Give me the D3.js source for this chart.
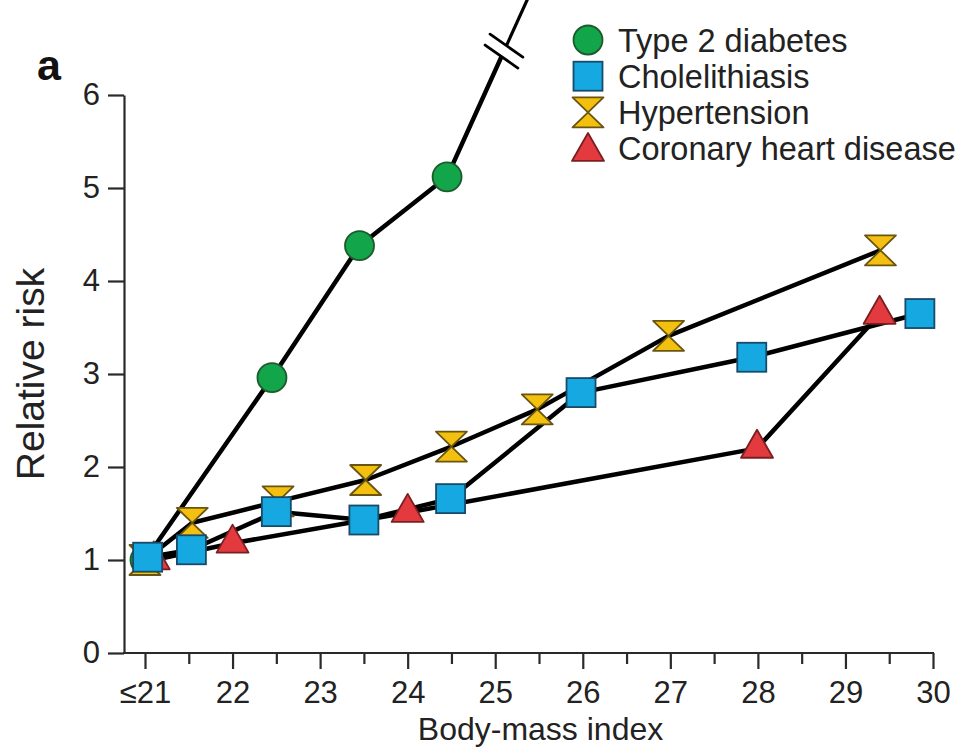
<!DOCTYPE html>
<html><head><meta charset="utf-8">
<script src="https://cdn.jsdelivr.net/npm/d3@7"></script>
<style>
html,body{margin:0;padding:0;background:#fff;}
svg{display:block;font-family:"Liberation Sans",Arial,Helvetica,sans-serif;}
</style></head>
<body>
<svg id="chart" width="971" height="748"></svg>
<script>
// ---- data ----
const seriesNames = ["Type 2 diabetes","Cholelithiasis","Hypertension","Coronary heart disease"];
const diabetesBmi  = [21.0, 22.45, 23.45, 24.45, 25.45];
const diabetesRisk = [1.0, 2.96, 4.38, 5.12, 7.2];   // last point is off-scale (beyond axis break)
const cholBmi  = [21.03, 21.53, 22.5, 23.5, 24.49, 25.98, 27.93, 29.85];
const cholRisk = [1.03, 1.11, 1.52, 1.43, 1.66, 2.80, 3.18, 3.65];
const hyperBmi  = [21.0, 21.54, 22.52, 23.52, 24.5, 25.48, 26.98, 29.4];
const hyperRisk = [1.0, 1.40, 1.63, 1.86, 2.22, 2.62, 3.41, 4.33];
const chdBmi  = [21.1, 22.0, 24.0, 27.99, 29.39];
const chdRisk = [1.0, 1.18, 1.51, 2.20, 3.64];
const xTickValues = [21,22,23,24,25,26,27,28,29,30];
const xTickLabels = ["≤21","22","23","24","25","26","27","28","29","30"];
const xMinorTicks = [21.5,22.5,23.5,24.5,25.5,26.5,27.5,28.5,29.5];
const yTickValues = [0,1,2,3,4,5,6];
const yTickLabels = ["0","1","2","3","4","5","6"];
const breakBmi = 25.1;
const colors = {green:"#12a54a", blue:"#16a8e0", yellow:"#f4c010", red:"#e23a3e"};

// ---- layout ----
const svg = d3.select("#chart");
const x = d3.scaleLinear().domain([21,30]).range([145,933]);
const y = d3.scaleLinear().domain([0,6]).range([653,95]);
const axisX = 124; // y-axis position
const axisColor = "#2a2a2a", textColor = "#222";
const tickFont = 31;

// y axis
const gy = svg.append("g").attr("transform",`translate(${axisX},0)`)
  .call(d3.axisLeft(y).tickValues(yTickValues).tickFormat((d,i)=>yTickLabels[i]).tickSize(16).tickPadding(8).tickSizeOuter(0));
gy.select(".domain").attr("stroke",axisColor).attr("stroke-width",2.2);
gy.selectAll(".tick line").attr("stroke",axisColor).attr("stroke-width",2.2);
gy.selectAll(".tick text").attr("font-size",tickFont).attr("fill",textColor).attr("font-family","Liberation Sans, Arial, sans-serif");

// x axis
const gx = svg.append("g").attr("transform",`translate(0,${y(0)})`)
  .call(d3.axisBottom(x).tickValues(xTickValues).tickFormat((d,i)=>xTickLabels[i]).tickSize(16).tickPadding(12).tickSizeOuter(0));
gx.select(".domain").remove();
gx.selectAll(".tick line").attr("stroke",axisColor).attr("stroke-width",2.2);
gx.selectAll(".tick text").attr("font-size",tickFont).attr("fill",textColor).attr("font-family","Liberation Sans, Arial, sans-serif");
const gxm = svg.append("g").attr("transform",`translate(0,${y(0)})`)
  .call(d3.axisBottom(x).tickValues(xMinorTicks).tickFormat("").tickSize(11).tickSizeOuter(0));
gxm.select(".domain").remove();
gxm.selectAll(".tick line").attr("stroke",axisColor).attr("stroke-width",2.2);
svg.append("line").attr("x1",axisX-1).attr("x2",x(30)+1).attr("y1",y(0)).attr("y2",y(0))
  .attr("stroke",axisColor).attr("stroke-width",2.2);

// axis titles
svg.append("text").attr("x",(axisX+x(30))/2+12).attr("y",740).attr("text-anchor","middle")
  .attr("font-size",32).attr("fill",textColor).text("Body-mass index");
svg.append("text").attr("transform",`translate(44,${y(3.0)}) rotate(-90)`).attr("text-anchor","middle")
  .attr("font-size",39).attr("fill",textColor).text("Relative risk");
svg.append("text").attr("x",37).attr("y",80).attr("font-size",43).attr("font-weight","bold")
  .attr("fill","#111").text("a");

// ---- series ----
const zip = (a,b)=>a.map((v,i)=>({bmi:v,risk:b[i]}));
const series = [
  {name:seriesNames[0], pts:zip(diabetesBmi,diabetesRisk), shape:"circle", color:colors.green, stroke:"#1d5a2c", nMarks:4},
  {name:seriesNames[1], pts:zip(cholBmi,cholRisk), shape:"square", color:colors.blue, stroke:"#184a6a"},
  {name:seriesNames[2], pts:zip(hyperBmi,hyperRisk), shape:"hourglass", color:colors.yellow, stroke:"#6a5510"},
  {name:seriesNames[3], pts:zip(chdBmi,chdRisk), shape:"triangle", color:colors.red, stroke:"#7a1e20"}
];
const line = d3.line().x(d=>x(d.bmi)).y(d=>y(d.risk));

// diabetes: split at the axis break
const dp = series[0].pts;
const da = dp[3], db = dp[4];
const tB = (breakBmi - da.bmi)/(db.bmi - da.bmi);
const breakPt = {bmi: breakBmi, risk: da.risk + tB*(db.risk - da.risk)};

series.forEach((s,i)=>{
  const pts = i===0 ? s.pts.slice(0,4).concat([breakPt]) : s.pts;
  svg.append("path").attr("d",line(pts)).attr("fill","none").attr("stroke","#000")
    .attr("stroke-width",4.5).attr("stroke-linejoin","round").attr("stroke-linecap","butt");
});
svg.append("path").attr("d",line([breakPt, db])).attr("fill","none").attr("stroke","#000")
  .attr("stroke-width",3.2);

// axis break marks
(function(){
  const bx = x(breakPt.bmi), by = y(breakPt.risk);
  const dx = x(db.bmi)-x(da.bmi), dy = y(db.risk)-y(da.risk);
  const len = Math.hypot(dx,dy), ux = dx/len, uy = dy/len;
  const gap = 6;
  svg.append("line").attr("x1",bx-ux*gap).attr("y1",by-uy*gap).attr("x2",bx+ux*gap).attr("y2",by+uy*gap)
    .attr("stroke","#fff").attr("stroke-width",9);
  const ang = 35*Math.PI/180, L = 20;
  const mx = Math.cos(ang), my = Math.sin(ang);
  [-gap,gap].forEach(o=>{
    const cx = bx+ux*o, cy = by+uy*o;
    svg.append("line").attr("x1",cx-mx*L).attr("y1",cy-my*L).attr("x2",cx+mx*L).attr("y2",cy+my*L)
      .attr("stroke","#000").attr("stroke-width",2.8).attr("stroke-linecap","round");
  });
})();

function marker(g, shape, cx, cy, fill, stroke){
  const sw = 1.8;
  if(shape==="circle"){
    g.append("circle").attr("cx",cx).attr("cy",cy).attr("r",14.5).attr("fill",fill).attr("stroke",stroke).attr("stroke-width",sw);
  } else if(shape==="square"){
    g.append("rect").attr("x",cx-14.5).attr("y",cy-14.5).attr("width",29).attr("height",29).attr("fill",fill).attr("stroke",stroke).attr("stroke-width",sw);
  } else if(shape==="hourglass"){
    const w=31,h=30;
    g.append("path").attr("d",`M${cx-w/2},${cy-h/2}L${cx+w/2},${cy-h/2}L${cx},${cy}Z M${cx-w/2},${cy+h/2}L${cx+w/2},${cy+h/2}L${cx},${cy}Z`)
      .attr("fill",fill).attr("stroke",stroke).attr("stroke-width",sw).attr("stroke-linejoin","round");
  } else if(shape==="triangle"){
    const w=32,h=28;
    g.append("path").attr("d",`M${cx},${cy-2*h/3}L${cx+w/2},${cy+h/3}L${cx-w/2},${cy+h/3}Z`)
      .attr("fill",fill).attr("stroke",stroke).attr("stroke-width",sw).attr("stroke-linejoin","round");
  }
}
// draw markers: green, red, yellow, blue order
const mg = svg.append("g");
[0,3,2,1].forEach(i=>{
  const s = series[i];
  const pts = s.nMarks ? s.pts.slice(0,s.nMarks) : s.pts;
  pts.forEach(d=>marker(mg, s.shape, x(d.bmi), y(d.risk), s.color, s.stroke));
});

// legend
const lg = svg.append("g");
series.forEach((s,i)=>{
  const cy = 40 + i*36.2;
  marker(lg, s.shape, 588, cy + (s.shape==="triangle"?3:0), s.color, s.stroke);
  lg.append("text").attr("x",618).attr("y",cy+11.5).attr("font-size",32.5).attr("fill",textColor).text(s.name);
});
</script>
</body></html>
